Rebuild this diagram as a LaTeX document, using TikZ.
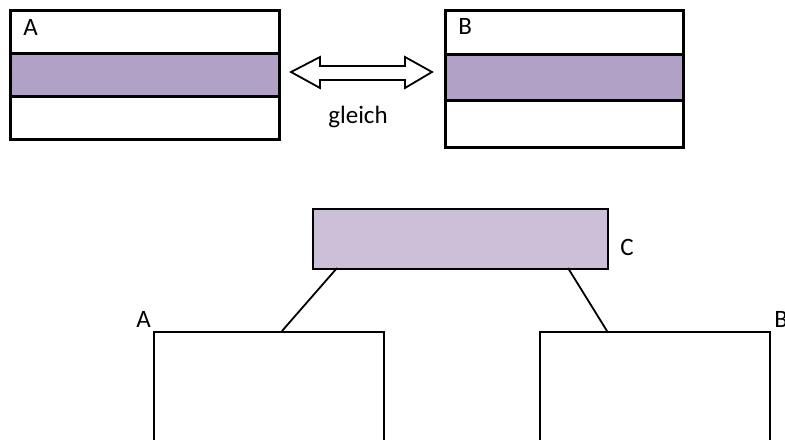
\documentclass[tikz,border=0pt]{standalone}
\usepackage{fontspec}
\setmainfont{Carlito}
\definecolor{bandpurple}{HTML}{B1A1C7}
\definecolor{lightpurple}{HTML}{CCC0D9}
\begin{document}
\begin{tikzpicture}[x=0.5pt,y=-0.5pt,
  box/.style={draw=black,line width=1.3pt,rectangle,inner sep=0pt,anchor=north west},
  lowbox/.style={draw=black,line width=1pt,rectangle,inner sep=0pt,anchor=north west},
  lbl/.style={font=\fontsize{12.5pt}{15pt}\selectfont,inner sep=0pt,anchor=base west},
  conn/.style={draw=black,line width=0.9pt}]
\useasboundingbox (0,0) rectangle (785,439);
\clip (0,0) rectangle (785,439);
% top box A
\node[box,minimum width=134.5pt,minimum height=21.5pt] (A1) at (9,9) {};
\node[box,fill=bandpurple,minimum width=134.5pt,minimum height=21.5pt] (A2) at (9,52) {};
\node[box,minimum width=134.5pt,minimum height=21.5pt] (A3) at (9,95) {};
\node[lbl] (la) at (23,35) {A};
% top box B
\node[box,minimum width=119pt,minimum height=22pt] (B1) at (444,9) {};
\node[box,fill=bandpurple,minimum width=119pt,minimum height=23pt] (B2) at (444,53) {};
\node[box,minimum width=119pt,minimum height=23.5pt] (B3) at (444,99) {};
\node[lbl] (lb) at (458,34) {B};
% double arrow
\draw[line width=0.9pt,fill=white] (291,72) -- (320,57) -- (320,66) -- (405,66) -- (405,57) -- (432,72)
  -- (405,88) -- (405,80) -- (320,80) -- (320,88) -- cycle;
\node[font=\fontsize{12.5pt}{15pt}\selectfont,inner sep=0pt,anchor=base] (g) at (358,123) {gleich};
% bottom
\node[box,line width=1pt,fill=lightpurple,minimum width=147.5pt,minimum height=30pt] (C) at (312,208) {};
\node[lbl] (lc) at (620,255) {C};
\node[lowbox,minimum width=115pt,minimum height=70pt] (LA) at (153,331) {};
\node[lowbox,minimum width=115pt,minimum height=70pt] (LB) at (539,331) {};
\node[lbl] (lla) at (136,327) {A};
\node[lbl] (llb) at (774,327) {B};
\coordinate (c1) at (337,268);
\coordinate (c2) at (568,268);
\coordinate (a1) at (282,331);
\coordinate (b1) at (607,331);
\draw[conn] (c1) -- (a1);
\draw[conn] (c2) -- (b1);
\end{tikzpicture}
\end{document}
